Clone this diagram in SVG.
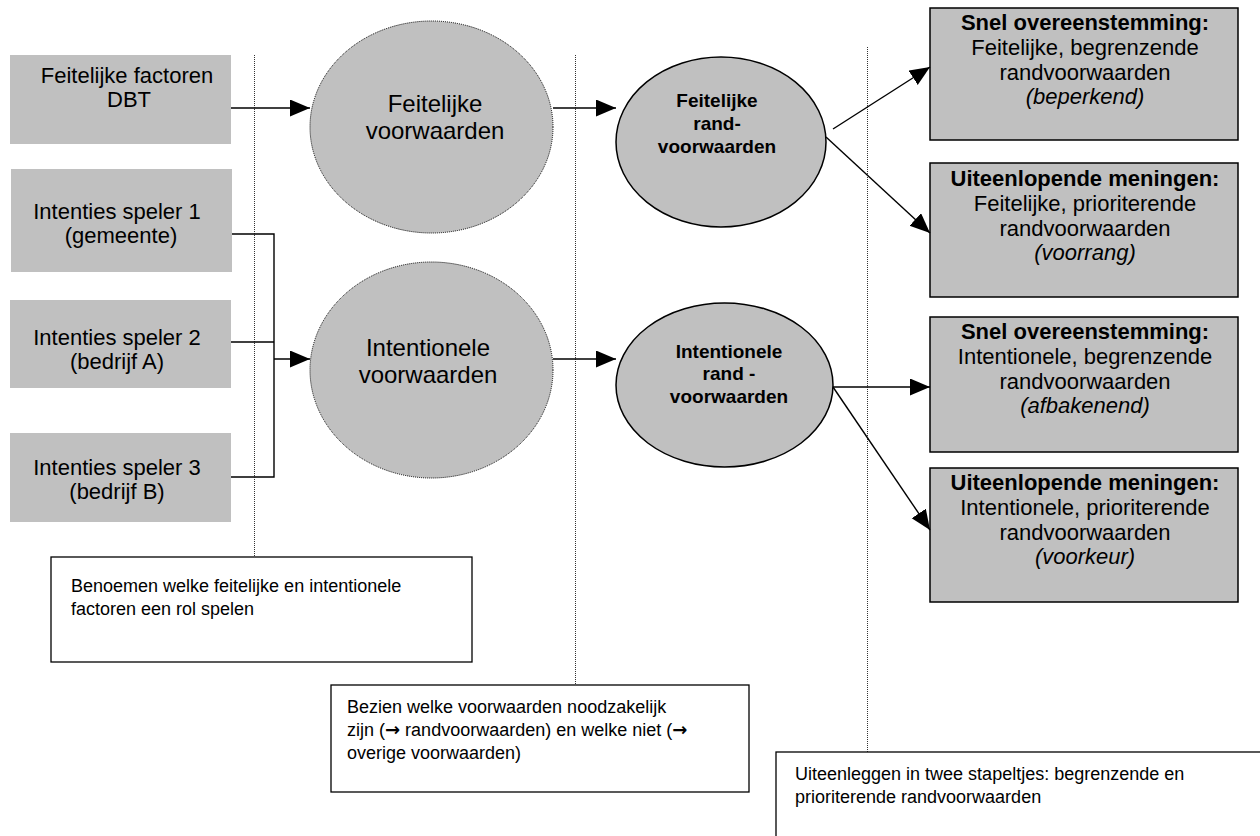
<svg xmlns="http://www.w3.org/2000/svg" width="1260" height="836" viewBox="0 0 1260 836">
<style>
  text { font-family: "Liberation Sans", Arial, sans-serif; fill: #000; }
  .box { fill: #c0c0c0; stroke: none; }
  .rbox { fill: #c0c0c0; stroke: #000; stroke-width: 1.5; }
  .note { fill: #fff; stroke: #000; stroke-width: 1.3; }
  .ell-dot { fill: #c0c0c0; stroke: #000; stroke-width: 1; stroke-dasharray: 1 1; }
  .ell { fill: #c0c0c0; stroke: #000; stroke-width: 1.5; }
  .guide { stroke: #333; stroke-width: 1; stroke-dasharray: 1 1; fill: none; }
  .conn { stroke: #000; stroke-width: 1.4; fill: none; }
  .t22 { font-size: 22px; text-anchor: middle; }
  .t24 { font-size: 24px; text-anchor: middle; }
  .b19 { font-size: 19px; font-weight: bold; text-anchor: middle; }
  .b22 { font-size: 22px; font-weight: bold; text-anchor: middle; }
  .i22 { font-size: 22px; font-style: italic; text-anchor: middle; }
  .n18 { font-size: 18px; }
  .sym { font-family: "DejaVu Sans", sans-serif; font-weight: bold; }
</style>
<defs>
  <marker id="arr" markerUnits="userSpaceOnUse" markerWidth="22" markerHeight="18" refX="20" refY="8.5" orient="auto">
    <path d="M0,0 L20,8.5 L0,17 z" fill="#000"/>
  </marker>
</defs>

<g id="guides">
  <line class="guide" x1="254.5" y1="55" x2="254.5" y2="557"/>
  <line class="guide" x1="575.5" y1="55" x2="575.5" y2="685"/>
  <line class="guide" x1="867.5" y1="47" x2="867.5" y2="752"/>
</g>

<g id="factoren-dbt">
  <rect class="box" x="10" y="55" width="221" height="89"/>
  <text class="t22" x="127" y="83">Feitelijke factoren</text>
  <text class="t22" x="129" y="107">DBT</text>
</g>
<g id="speler1">
  <rect class="box" x="11" y="169" width="221" height="103"/>
  <text class="t22" x="117" y="219">Intenties speler 1</text>
  <text class="t22" x="121" y="243">(gemeente)</text>
</g>
<g id="speler2">
  <rect class="box" x="10" y="300" width="221" height="88"/>
  <text class="t22" x="117" y="345">Intenties speler 2</text>
  <text class="t22" x="117" y="369">(bedrijf A)</text>
</g>
<g id="speler3">
  <rect class="box" x="10" y="433" width="221" height="89"/>
  <text class="t22" x="117" y="475">Intenties speler 3</text>
  <text class="t22" x="117" y="499">(bedrijf B)</text>
</g>

<g id="feitelijke-voorwaarden">
  <ellipse class="ell-dot" cx="431.5" cy="127" rx="121.5" ry="106"/>
  <text class="t24" x="435" y="112">Feitelijke</text>
  <text class="t24" x="435" y="139">voorwaarden</text>
</g>
<g id="intentionele-voorwaarden">
  <ellipse class="ell-dot" cx="431.5" cy="370" rx="121.5" ry="108"/>
  <text class="t24" x="428" y="356">Intentionele</text>
  <text class="t24" x="428" y="383">voorwaarden</text>
</g>

<g id="feitelijke-randvoorwaarden">
  <ellipse class="ell" cx="721" cy="142" rx="105" ry="85"/>
  <text class="b19" x="717" y="107">Feitelijke</text>
  <text class="b19" x="717" y="130">rand-</text>
  <text class="b19" x="717" y="153">voorwaarden</text>
</g>
<g id="intentionele-randvoorwaarden">
  <ellipse class="ell" cx="724.5" cy="385" rx="108.5" ry="82"/>
  <text class="b19" x="729" y="358">Intentionele</text>
  <text class="b19" x="729" y="380">rand -</text>
  <text class="b19" x="729" y="403">voorwaarden</text>
</g>

<g id="feit-beperkend">
  <rect class="rbox" x="930" y="8" width="308" height="132"/>
  <text class="b22" x="1085" y="30">Snel overeenstemming:</text>
  <text class="t22" x="1085" y="55">Feitelijke, begrenzende</text>
  <text class="t22" x="1085" y="80">randvoorwaarden</text>
  <text class="i22" x="1085" y="104">(beperkend)</text>
</g>
<g id="feit-voorrang">
  <rect class="rbox" x="930" y="163" width="308" height="134"/>
  <text class="b22" x="1085" y="186">Uiteenlopende meningen:</text>
  <text class="t22" x="1085" y="211">Feitelijke, prioriterende</text>
  <text class="t22" x="1085" y="236">randvoorwaarden</text>
  <text class="i22" x="1085" y="260">(voorrang)</text>
</g>
<g id="int-afbakenend">
  <rect class="rbox" x="930" y="317" width="308" height="135"/>
  <text class="b22" x="1085" y="339">Snel overeenstemming:</text>
  <text class="t22" x="1085" y="364">Intentionele, begrenzende</text>
  <text class="t22" x="1085" y="389">randvoorwaarden</text>
  <text class="i22" x="1085" y="413">(afbakenend)</text>
</g>
<g id="int-voorkeur">
  <rect class="rbox" x="930" y="468" width="308" height="134"/>
  <text class="b22" x="1085" y="490">Uiteenlopende meningen:</text>
  <text class="t22" x="1085" y="515">Intentionele, prioriterende</text>
  <text class="t22" x="1085" y="540">randvoorwaarden</text>
  <text class="i22" x="1085" y="564">(voorkeur)</text>
</g>

<g id="note-benoemen">
  <rect class="note" x="51" y="557" width="421" height="105"/>
  <text class="n18" x="71" y="592">Benoemen welke feitelijke en intentionele</text>
  <text class="n18" x="71" y="615">factoren een rol spelen</text>
</g>
<g id="note-bezien">
  <rect class="note" x="331" y="685" width="418" height="107"/>
  <text class="n18" x="347" y="713">Bezien welke voorwaarden noodzakelijk</text>
  <text class="n18" x="347" y="736">zijn (<tspan class="sym">→</tspan> randvoorwaarden) en welke niet (<tspan class="sym">→</tspan></text>
  <text class="n18" x="347" y="759">overige voorwaarden)</text>
</g>
<g id="note-uiteenleggen">
  <rect class="note" x="776" y="752" width="500" height="100"/>
  <text class="n18" x="795" y="780">Uiteenleggen in twee stapeltjes: begrenzende en</text>
  <text class="n18" x="795" y="803">prioriterende randvoorwaarden</text>
</g>

<g id="connectors">
  <line class="conn" x1="231" y1="108" x2="310" y2="108" marker-end="url(#arr)"/>
  <polyline class="conn" points="232,234 274,234 274,477 231,477"/>
  <line class="conn" x1="231" y1="342" x2="274" y2="342"/>
  <line class="conn" x1="274" y1="359" x2="310" y2="359" marker-end="url(#arr)"/>
  <line class="conn" x1="553" y1="108" x2="616" y2="108" marker-end="url(#arr)"/>
  <line class="conn" x1="553" y1="359" x2="616" y2="359" marker-end="url(#arr)"/>
  <line class="conn" x1="833" y1="129" x2="930" y2="67" marker-end="url(#arr)"/>
  <line class="conn" x1="826" y1="137" x2="930" y2="233" marker-end="url(#arr)"/>
  <line class="conn" x1="833" y1="387" x2="930" y2="387" marker-end="url(#arr)"/>
  <line class="conn" x1="833" y1="387" x2="930" y2="530" marker-end="url(#arr)"/>
</g>
</svg>
